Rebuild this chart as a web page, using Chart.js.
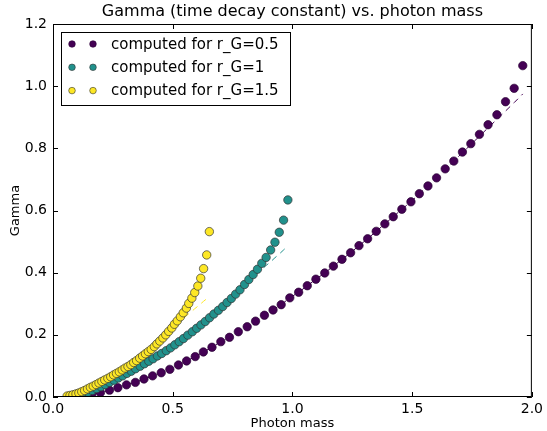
<!DOCTYPE html>
<html>
<head>
<meta charset="utf-8">
<script src="https://cdn.jsdelivr.net/npm/chart.js@4.4.1/dist/chart.umd.min.js"></script>
<style>
  html, body { margin: 0; padding: 0; background: #fff; }
  canvas { display: block; }
</style>
</head>
<body>
<canvas id="graficoGamma" width="547" height="431"></canvas>
<script>
//---------------
// Datos
//---------------
const masaR05 = [0.126, 0.162, 0.198, 0.236, 0.271, 0.307, 0.344, 0.380, 0.416, 0.452, 0.488, 0.524, 0.558, 0.594, 0.628, 0.664, 0.701, 0.737, 0.774, 0.811, 0.846, 0.883, 0.919, 0.953, 0.989, 1.026, 1.062, 1.098, 1.135, 1.171, 1.207, 1.243, 1.278, 1.314, 1.350, 1.386, 1.421, 1.457, 1.495, 1.530, 1.566, 1.602, 1.638, 1.674, 1.710, 1.745, 1.781, 1.817, 1.854, 1.890, 1.926, 1.962];
const gammaR05 = [0.004, 0.008, 0.014, 0.022, 0.030, 0.039, 0.047, 0.058, 0.068, 0.078, 0.089, 0.103, 0.116, 0.130, 0.145, 0.160, 0.178, 0.192, 0.210, 0.226, 0.244, 0.263, 0.280, 0.297, 0.319, 0.337, 0.358, 0.379, 0.399, 0.421, 0.443, 0.464, 0.487, 0.509, 0.533, 0.557, 0.580, 0.604, 0.628, 0.654, 0.679, 0.705, 0.734, 0.759, 0.788, 0.815, 0.845, 0.876, 0.908, 0.950, 0.993, 1.066];
const ajusteR05 = [0.004, 0.008, 0.014, 0.022, 0.030, 0.039, 0.047, 0.058, 0.068, 0.078, 0.089, 0.103, 0.116, 0.130, 0.145, 0.160, 0.178, 0.192, 0.210, 0.226, 0.244, 0.263, 0.280, 0.297, 0.319, 0.337, 0.358, 0.379, 0.399, 0.421, 0.443, 0.464, 0.487, 0.509, 0.533, 0.557, 0.580, 0.604, 0.628, 0.654, 0.679, 0.705, 0.733, 0.759, 0.786, 0.812, 0.839, 0.866, 0.893, 0.920, 0.947, 0.975];

const masaR1 = [0.091, 0.109, 0.127, 0.146, 0.164, 0.182, 0.200, 0.218, 0.236, 0.255, 0.273, 0.291, 0.309, 0.327, 0.345, 0.364, 0.382, 0.400, 0.418, 0.436, 0.454, 0.473, 0.491, 0.509, 0.527, 0.545, 0.563, 0.582, 0.600, 0.618, 0.636, 0.654, 0.672, 0.691, 0.709, 0.727, 0.745, 0.763, 0.781, 0.800, 0.818, 0.836, 0.854, 0.872, 0.890, 0.909, 0.927, 0.945, 0.963, 0.981];
const gammaR1 = [0.001, 0.005, 0.010, 0.015, 0.021, 0.027, 0.033, 0.040, 0.047, 0.054, 0.061, 0.068, 0.076, 0.083, 0.091, 0.099, 0.107, 0.115, 0.123, 0.132, 0.140, 0.149, 0.158, 0.168, 0.178, 0.188, 0.199, 0.210, 0.221, 0.232, 0.243, 0.255, 0.267, 0.279, 0.291, 0.304, 0.317, 0.331, 0.345, 0.362, 0.378, 0.394, 0.411, 0.430, 0.449, 0.473, 0.498, 0.530, 0.569, 0.634];
const ajusteR1 = [0.001, 0.005, 0.010, 0.015, 0.021, 0.027, 0.033, 0.040, 0.047, 0.054, 0.061, 0.068, 0.076, 0.083, 0.091, 0.099, 0.107, 0.115, 0.123, 0.132, 0.140, 0.149, 0.158, 0.168, 0.178, 0.188, 0.199, 0.210, 0.221, 0.232, 0.243, 0.255, 0.267, 0.279, 0.291, 0.304, 0.317, 0.331, 0.345, 0.361, 0.374, 0.386, 0.398, 0.410, 0.423, 0.435, 0.448, 0.460, 0.473, 0.486];

const masaR15 = [0.059, 0.071, 0.083, 0.096, 0.108, 0.120, 0.132, 0.144, 0.156, 0.168, 0.180, 0.192, 0.204, 0.216, 0.229, 0.241, 0.253, 0.265, 0.277, 0.289, 0.301, 0.313, 0.325, 0.337, 0.349, 0.362, 0.374, 0.386, 0.398, 0.410, 0.423, 0.434, 0.446, 0.459, 0.471, 0.483, 0.496, 0.507, 0.519, 0.532, 0.544, 0.557, 0.567, 0.580, 0.592, 0.605, 0.617, 0.629, 0.642, 0.653];
const gammaR15 = [0.003, 0.005, 0.007, 0.010, 0.013, 0.017, 0.021, 0.026, 0.031, 0.035, 0.040, 0.045, 0.050, 0.055, 0.060, 0.065, 0.071, 0.076, 0.081, 0.087, 0.093, 0.098, 0.104, 0.111, 0.117, 0.125, 0.132, 0.139, 0.146, 0.153, 0.162, 0.171, 0.180, 0.190, 0.200, 0.211, 0.222, 0.234, 0.245, 0.258, 0.271, 0.286, 0.301, 0.318, 0.336, 0.357, 0.382, 0.413, 0.457, 0.532];
const ajusteR15 = [0.003, 0.005, 0.007, 0.010, 0.013, 0.017, 0.021, 0.026, 0.031, 0.035, 0.040, 0.045, 0.050, 0.055, 0.060, 0.065, 0.071, 0.076, 0.081, 0.087, 0.093, 0.098, 0.104, 0.111, 0.117, 0.125, 0.132, 0.139, 0.146, 0.153, 0.162, 0.171, 0.180, 0.190, 0.199, 0.208, 0.217, 0.226, 0.234, 0.243, 0.252, 0.261, 0.268, 0.276, 0.284, 0.292, 0.300, 0.308, 0.316, 0.323];

const etiquetas = ['computed for r_G=0.5', 'computed for r_G=1', 'computed for r_G=1.5'];
const colores = ['#440154', '#21918c', '#fde725'];
const ticksX = [0.0, 0.5, 1.0, 1.5, 2.0];
const ticksY = [0.0, 0.2, 0.4, 0.6, 0.8, 1.0, 1.2];

const FUENTE = "'DejaVu Sans', sans-serif";

const puntos = (xs, ys) => xs.map((x, i) => ({ x: x, y: ys[i] }));

//---------------
// Datasets: lineas punteadas detras, puntos encima
//---------------
const series = [
  [masaR05, gammaR05, ajusteR05],
  [masaR1, gammaR1, ajusteR1],
  [masaR15, gammaR15, ajusteR15]
];

const datasets = [];
series.forEach(([xs, ys, fit], i) => {
  datasets.push({
    label: etiquetas[i] + ' (fit)',
    data: puntos(xs, fit),
    showLine: true,
    borderColor: colores[i],
    borderWidth: 1,
    borderDash: [6, 5],
    pointRadius: 0,
    fill: false,
    order: 10
  });
});
series.forEach(([xs, ys], i) => {
  datasets.push({
    label: etiquetas[i],
    data: puntos(xs, ys),
    showLine: false,
    backgroundColor: colores[i],
    borderColor: i === 0 ? '#2a0035' : '#333333',
    borderWidth: 0.7,
    pointRadius: 4.2,
    order: 5 - i
  });
});

//---------------
// Marco, ticks hacia adentro, titulo y leyenda
//---------------
const marcoPlugin = {
  id: 'marco',
  afterDraw(chart) {
    const { ctx, chartArea: a, scales } = chart;
    ctx.save();
    ctx.strokeStyle = '#000';
    ctx.lineWidth = 1;
    ctx.strokeRect(a.left + 0.5, a.top + 0.5, a.right - a.left - 1, a.bottom - a.top - 1);

    ctx.beginPath();
    ticksX.forEach(v => {
      const px = Math.round(scales.x.getPixelForValue(v)) + 0.5;
      ctx.moveTo(px, a.bottom); ctx.lineTo(px, a.bottom - 5);
      ctx.moveTo(px, a.top); ctx.lineTo(px, a.top + 5);
    });
    ticksY.forEach(v => {
      const py = Math.round(scales.y.getPixelForValue(v)) + 0.5;
      ctx.moveTo(a.left, py); ctx.lineTo(a.left + 5, py);
      ctx.moveTo(a.right, py); ctx.lineTo(a.right - 5, py);
    });
    ctx.stroke();

    // titulo
    ctx.fillStyle = '#000';
    ctx.font = '16px ' + FUENTE;
    ctx.textAlign = 'center';
    ctx.textBaseline = 'middle';
    ctx.fillText('Gamma (time decay constant) vs. photon mass', (a.left + a.right) / 2, 12);

    // leyenda
    const lx = 61, ly = 32, lw = 229, lh = 73;
    ctx.fillStyle = '#fff';
    ctx.fillRect(lx, ly, lw, lh);
    ctx.strokeStyle = '#000';
    ctx.strokeRect(lx + 0.5, ly + 0.5, lw, lh);
    ctx.font = '15px ' + FUENTE;
    ctx.textAlign = 'left';
    etiquetas.forEach((t, i) => {
      const y = 44 + i * 23.3;
      [72, 93].forEach(x => {
        ctx.beginPath();
        ctx.arc(x, y, 3.3, 0, Math.PI * 2);
        ctx.fillStyle = colores[i];
        ctx.fill();
        ctx.lineWidth = 0.6;
        ctx.strokeStyle = i === 0 ? '#2a0035' : '#333';
        ctx.stroke();
      });
      ctx.fillStyle = '#000';
      ctx.fillText(t, 111, y + 1);
    });
    ctx.restore();
  }
};

//---------------
// Grafico
//---------------
const graficoGamma = new Chart(document.getElementById('graficoGamma'), {
  type: 'scatter',
  data: { datasets: datasets },
  options: {
    responsive: false,
    animation: false,
    layout: { padding: { top: 24, right: 10, left: 0, bottom: 0 } },
    plugins: {
      legend: { display: false },
      title: { display: false },
      tooltip: { enabled: false }
    },
    scales: {
      x: {
        type: 'linear',
        min: 0,
        max: 2,
        afterBuildTicks: s => { s.ticks = ticksX.map(v => ({ value: v })); },
        afterFit: s => { s.height = 34; },
        grid: { display: false, drawTicks: false },
        border: { display: false },
        ticks: { color: '#000', font: { family: FUENTE, size: 14 }, padding: 4, maxRotation: 0, callback: v => v.toFixed(1) },
        title: { display: true, text: 'Photon mass', color: '#000', font: { family: FUENTE, size: 13 }, padding: 0 }
      },
      y: {
        type: 'linear',
        min: 0,
        max: 1.2,
        afterBuildTicks: s => { s.ticks = ticksY.map(v => ({ value: v })); },
        afterFit: s => { s.width = 53; },
        grid: { display: false, drawTicks: false },
        border: { display: false },
        ticks: { color: '#000', font: { family: FUENTE, size: 14 }, padding: 6, callback: v => v.toFixed(1) },
        title: { display: true, text: 'Gamma', color: '#000', font: { family: FUENTE, size: 13 }, padding: { top: 8, bottom: 0 } }
      }
    }
  },
  plugins: [marcoPlugin]
});
</script>
</body>
</html>
